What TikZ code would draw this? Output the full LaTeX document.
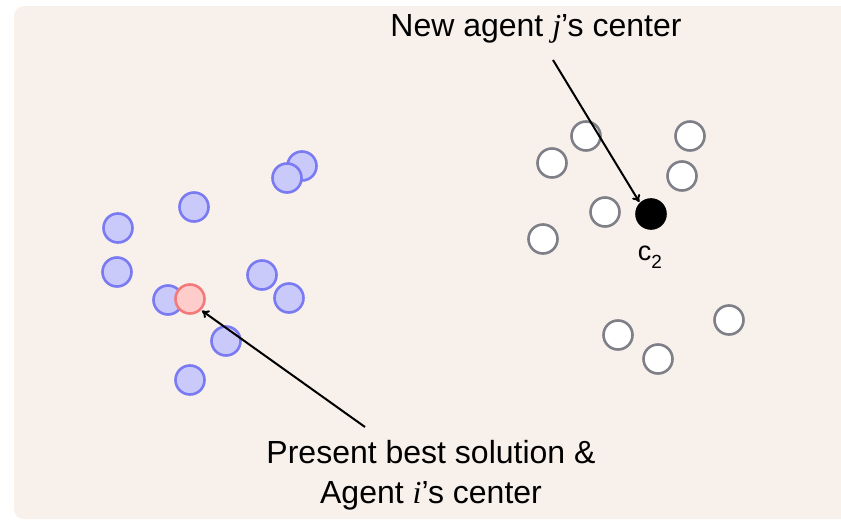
\documentclass[tikz,border=0pt]{standalone}
\usepackage{fontspec}
\setmainfont{Liberation Sans}
\newfontfamily\serifit{Liberation Serif}
\usetikzlibrary{arrows.meta}
\definecolor{bgc}{HTML}{F7F0EB}
\definecolor{bluefill}{HTML}{C9C9FA}
\definecolor{bluedraw}{HTML}{7A7AF2}
\definecolor{redfill}{HTML}{FFCCCC}
\definecolor{reddraw}{HTML}{F27A7A}
\definecolor{graydraw}{HTML}{7F7F88}
\tikzset{
  agent/.style={circle, minimum size=29pt, inner sep=0pt, line width=2.6pt},
  blueag/.style={agent, fill=bluefill, draw=bluedraw},
  redag/.style={agent, fill=redfill, draw=reddraw},
  whiteag/.style={agent, fill=white, draw=graydraw},
  blackag/.style={agent, fill=black, draw=black},
  lbl/.style={font=\fontsize{32}{40}\selectfont, text=black, align=center, inner sep=0pt},
  pointer/.style={-{To[length=7pt,width=9pt]}, line width=2pt, black, shorten >=1pt}
}
\begin{document}
\begin{tikzpicture}[x=1pt,y=-1pt]
\useasboundingbox (0,0) rectangle (841,522);
\fill[bgc, rounded corners=10pt] (14,6) rectangle (860,519);
% blue cluster
\node[blueag] (b1) at (302,166) {};
\node[blueag] (b2) at (287,178) {};
\node[blueag] (b3) at (194,207) {};
\node[blueag] (b4) at (118,228) {};
\node[blueag] (b5) at (117,272) {};
\node[blueag] (b6) at (168,300) {};
\node[redag] (best) at (190,299) {};
\node[blueag] (b7) at (262,275) {};
\node[blueag] (b8) at (289,298) {};
\node[blueag] (b9) at (226,341) {};
\node[blueag] (b10) at (190,380) {};
% white cluster
\node[whiteag] (w1) at (586,136) {};
\node[whiteag] (w2) at (552,163) {};
\node[whiteag] (w3) at (690,136) {};
\node[whiteag] (w4) at (682,176) {};
\node[whiteag] (w5) at (605,212) {};
\node[blackag] (c2) at (651,214) {};
\node[whiteag] (w6) at (543,239) {};
\node[whiteag] (w7) at (618,335) {};
\node[whiteag] (w8) at (658,359) {};
\node[whiteag] (w9) at (729,320) {};
\node[font=\fontsize{27}{30}\selectfont, inner sep=0pt] (c2l) at (650,257) {c\raisebox{-0.3em}{\fontsize{19}{20}\selectfont 2}};
% labels
\node[lbl] (newj) at (536,29) {New agent {\serifit\itshape j}’s center};
\node[lbl] (pres) at (431,475) {Present best solution \&\\ Agent {\serifit\itshape i}’s center};
\coordinate (s1) at (553,60);
\coordinate (s2) at (365,427);
\draw[pointer] (s1) -- (c2.north west);
\draw[pointer] (s2) -- (best.south east);
\end{tikzpicture}
\end{document}
